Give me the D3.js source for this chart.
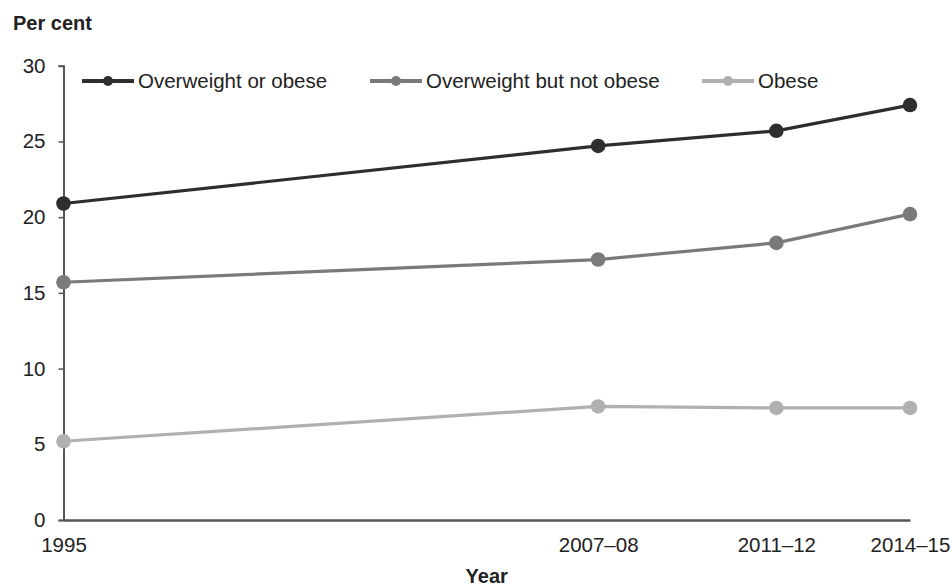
<!DOCTYPE html>
<html>
<head>
<meta charset="utf-8">
<script src="https://cdn.jsdelivr.net/npm/d3@7"></script>
<style>
  html, body { margin: 0; padding: 0; background: #fff; }
  svg { display: block; font-family: "Liberation Sans", Arial, sans-serif; }
</style>
</head>
<body>
<svg id="chart" width="952" height="587"></svg>
<script>
// Data
const years = [1995, 2007, 2011, 2014];
const yearLabels = ["1995", "2007\u201308", "2011\u201312", "2014\u201315"];
const seriesNames = ["Overweight or obese", "Overweight but not obese", "Obese"];
const overweightOrObese = [20.9, 24.7, 25.7, 27.4];
const overweightNotObese = [15.7, 17.2, 18.3, 20.2];
const obese = [5.2, 7.5, 7.4, 7.4];
const yTicks = [0, 5, 10, 15, 20, 25, 30];

const colors = ["#2e2e2e", "#7a7a7a", "#b0b0b0"];
const seriesValues = [overweightOrObese, overweightNotObese, obese];

const svg = d3.select("#chart");
const x = d3.scaleLinear().domain([1995, 2014]).range([63.5, 910]);
const y = d3.scaleLinear().domain([0, 30]).range([520, 65.7]);

// Y axis
const yAxis = d3.axisLeft(y).tickValues(yTicks).tickSize(5).tickPadding(13).tickFormat(d3.format("d"));
const gy = svg.append("g").attr("transform", `translate(${x(1995)},0)`).call(yAxis);
gy.select(".domain").attr("stroke", "#555").attr("stroke-width", 2);
gy.selectAll(".tick line").attr("stroke", "#555").attr("stroke-width", 1.5);
gy.selectAll(".tick text").attr("font-size", 20.5).attr("fill", "#222")
  .attr("font-family", "Liberation Sans, Arial, sans-serif");

// X axis
const xAxis = d3.axisBottom(x).tickValues(years).tickSize(0).tickPadding(17)
  .tickFormat((d, i) => yearLabels[i]);
const gx = svg.append("g").attr("transform", `translate(0,${y(0)})`).call(xAxis);
gx.select(".domain").attr("stroke", "#555").attr("stroke-width", 2.5);
gx.selectAll(".tick text").attr("font-size", 20.5).attr("fill", "#222")
  .attr("font-family", "Liberation Sans, Arial, sans-serif");

// Axis titles
svg.append("text").attr("x", 13).attr("y", 30).attr("font-size", 20).attr("font-weight", "bold")
  .attr("fill", "#222").text("Per cent");
svg.append("text").attr("x", (x.range()[0] + x.range()[1]) / 2).attr("y", 583)
  .attr("text-anchor", "middle").attr("font-size", 20).attr("font-weight", "bold")
  .attr("fill", "#222").text("Year");

// Lines
const line = d3.line().x((d, i) => x(years[i])).y(d => y(d));
seriesValues.forEach((vals, s) => {
  svg.append("path").datum(vals).attr("d", line).attr("fill", "none")
    .attr("stroke", colors[s]).attr("stroke-width", 3.2).attr("stroke-linejoin", "round");
  svg.selectAll(null).data(vals).enter().append("circle")
    .attr("cx", (d, i) => x(years[i])).attr("cy", d => y(d)).attr("r", 7.3)
    .attr("fill", colors[s]);
});

// Legend
const legendX = [82, 370, 702];
const legendY = 81;
seriesNames.forEach((name, s) => {
  const g = svg.append("g").attr("transform", `translate(${legendX[s]},${legendY})`);
  g.append("line").attr("x1", 0).attr("x2", 52).attr("y1", 0).attr("y2", 0)
    .attr("stroke", colors[s]).attr("stroke-width", 4);
  g.append("circle").attr("cx", 26).attr("cy", 0).attr("r", 5).attr("fill", colors[s]);
  g.append("text").attr("x", 56).attr("y", 0).attr("dy", "0.35em").attr("font-size", 20.5)
    .attr("fill", "#222").text(name);
});
</script>
</body>
</html>
